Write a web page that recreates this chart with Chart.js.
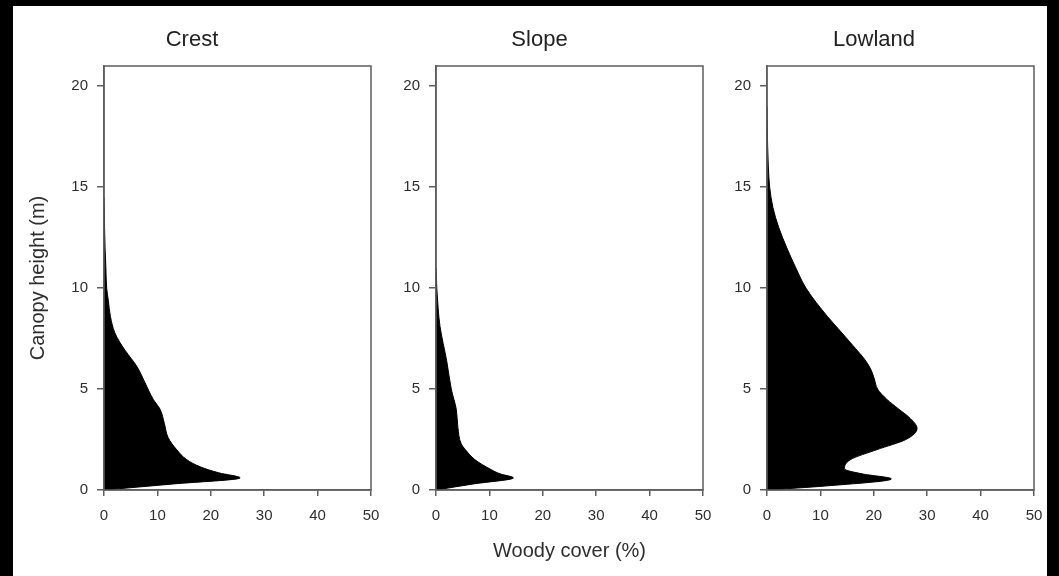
<!DOCTYPE html>
<html>
<head>
<meta charset="utf-8">
<script src="https://cdn.jsdelivr.net/npm/chart.js@4/dist/chart.umd.min.js"></script>
<style>
  html, body { margin: 0; padding: 0; background: #000; overflow: hidden; }
  #page { position: absolute; left: 13px; top: 6px; width: 1034px; height: 570px; background: #fff; }
  canvas { position: absolute; top: 0; }
</style>
</head>
<body>
<div id="page"></div>
<canvas id="crest"></canvas>
<canvas id="slope"></canvas>
<canvas id="lowland"></canvas>
<script>
// panel names
const panelTitles = ["Crest", "Slope", "Lowland"];

// canopy height (m) and woody cover (%)
const crestHeight = [0, 0.3, 0.6, 0.85, 1.15, 1.5, 2.0, 2.6, 3.3, 4.0, 4.5, 5.3, 6.1, 6.9, 7.3, 7.8, 8.6, 9.4, 10, 11, 12, 13, 14.5];
const crestCover  = [0, 13, 25.5, 21.5, 18, 15.5, 13.6, 12, 11.3, 10.5, 9.2, 7.7, 6.2, 4.0, 3.0, 2.0, 1.2, 0.8, 0.5, 0.35, 0.2, 0.1, 0];

const slopeHeight = [0, 0.3, 0.6, 0.8, 1.0, 1.5, 2.0, 2.3, 3.1, 4.0, 4.95, 6.4, 8.1, 9, 10, 11];
const slopeCover  = [0, 7, 14.5, 12, 10.4, 7.3, 5.5, 4.7, 4.1, 3.8, 2.9, 2.0, 0.75, 0.4, 0.15, 0];

const lowlandHeight = [0, 0.2, 0.55, 0.8, 1.05, 1.5, 2.0, 2.5, 3.05, 3.6, 4.0, 4.5, 5.0, 5.5, 6.0, 6.5, 7.0, 8.0, 8.6, 10, 11, 12, 13, 14, 15, 16, 17, 18, 19];
const lowlandCover  = [0, 11, 23.3, 17.8, 14.5, 15.6, 20.6, 26.0, 28.1, 26.6, 24.7, 22.4, 20.7, 20.1, 19.4, 18.2, 16.6, 13.3, 11.3, 7.3, 5.4, 3.7, 2.2, 1.1, 0.5, 0.25, 0.12, 0.05, 0];

// axis ticks
const heightTicks = [0, 5, 10, 15, 20];
const coverTicks = [0, 10, 20, 30, 40, 50];

const heights = [crestHeight, slopeHeight, lowlandHeight];
const covers = [crestCover, slopeCover, lowlandCover];

// layout: plot left edge, width of y axis area
const plotLeft = [104, 436, 767];
const axisW = [91, 60, 53];
const plotW = 267;
const ids = ["crest", "slope", "lowland"];

const FONT = "'Liberation Sans', Arial, sans-serif";
const TEXT = "#2e2e2e";
const AXIS = "#5e5e5e";

// draws the closed box round the plot area
const frame = {
    id: "frame",
    afterDraw(chart) {
        const a = chart.chartArea;
        const ctx = chart.ctx;
        ctx.save();
        ctx.strokeStyle = AXIS;
        ctx.lineWidth = 1.5;
        ctx.strokeRect(a.left, a.top, a.right - a.left, a.bottom - a.top);
        ctx.restore();
    }
};

for (let i = 0; i < 3; i++) {
    const W = axisW[i];
    const R = W - 28;
    const cv = document.getElementById(ids[i]);
    cv.width = W + plotW + R;
    cv.height = 576;
    cv.style.left = (plotLeft[i] - W) + "px";

    const pts = heights[i].map((h, k) => ({ x: covers[i][k], y: h }));

    new Chart(cv.getContext("2d"), {
        type: "line",
        data: {
            datasets: [{
                data: pts,
                borderColor: "#000",
                backgroundColor: "#000",
                borderWidth: 1,
                pointRadius: 0,
                fill: "origin",
                cubicInterpolationMode: "monotone",
            }],
        },
        plugins: [frame],
        options: {
            indexAxis: "y",
            responsive: false,
            animation: false,
            devicePixelRatio: 1,
            layout: { padding: { left: 0, right: R, top: 0, bottom: 0 } },
            plugins: {
                legend: { display: false },
                tooltip: { enabled: false },
                title: {
                    display: true,
                    text: panelTitles[i],
                    color: "#222",
                    font: { family: FONT, size: 22, weight: "normal", lineHeight: 1.2 },
                    padding: { top: 27, bottom: 12.6 },
                },
            },
            scales: {
                y: {
                    type: "linear",
                    min: 0,
                    max: 21,
                    afterBuildTicks: (s) => { s.ticks = heightTicks.map(v => ({ value: v })); },
                    afterFit: (s) => { s.width = W; },
                    grid: { drawOnChartArea: false, color: AXIS, tickLength: 7, lineWidth: 1.5 },
                    border: { color: AXIS, width: 1.5 },
                    ticks: { color: TEXT, padding: 9, font: { family: FONT, size: 15 } },
                    title: {
                        display: i === 0,
                        text: "Canopy height (m)",
                        color: TEXT,
                        font: { family: FONT, size: 20 },
                        padding: { top: 13, bottom: 0 },
                    },
                },
                x: {
                    type: "linear",
                    min: 0,
                    max: 50,
                    afterBuildTicks: (s) => { s.ticks = coverTicks.map(v => ({ value: v })); },
                    afterFit: (s) => { s.height = 86; },
                    grid: { drawOnChartArea: false, color: AXIS, tickLength: 6, lineWidth: 1.5 },
                    border: { color: AXIS, width: 1.5 },
                    ticks: { color: TEXT, padding: 11, maxRotation: 0, font: { family: FONT, size: 15 } },
                    title: {
                        display: i === 1,
                        text: "Woody cover (%)",
                        color: TEXT,
                        font: { family: FONT, size: 20 },
                        padding: { top: 0, bottom: 13 },
                    },
                },
            },
        },
    });
}
</script>
</body>
</html>
